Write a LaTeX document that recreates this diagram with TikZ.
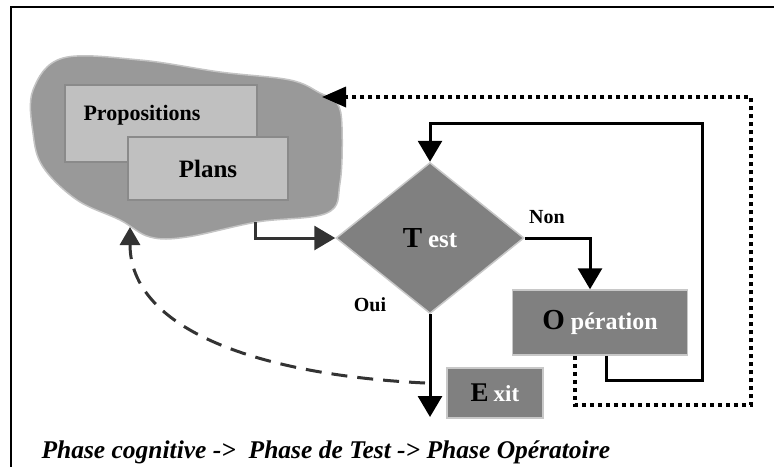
\documentclass[tikz,border=0pt]{standalone}
\usepackage{fontspec}
\setmainfont{Liberation Serif}
\usetikzlibrary{arrows.meta,shapes.geometric}
\definecolor{blobfill}{HTML}{999999}
\definecolor{blobedge}{HTML}{C4C4C4}
\definecolor{ideafill}{HTML}{C0C0C0}
\definecolor{ideaedge}{HTML}{8A8A8A}
\definecolor{actfill}{HTML}{808080}
\definecolor{actedge}{HTML}{C8C8C8}
\definecolor{darkline}{HTML}{333333}
\tikzset{
  idea/.style = {rectangle, fill=ideafill, draw=ideaedge, line width=1.2pt,
    inner sep=0pt, font=\bfseries},% boite de la phase cognitive
  act/.style = {rectangle, fill=actfill, draw=actedge, line width=1.5pt,
    inner sep=0pt, font=\bfseries},% boite grise
  decision/.style = {diamond, fill=actfill, draw=actedge, line width=1.5pt,
    inner sep=0pt, font=\bfseries},% losange du test
  lbl/.style = {font=\bfseries\fontsize{20}{22}\selectfont},
  flow/.style = {line width=3pt, -{Triangle[length=21pt,width=24pt]}},
  back/.style = {line width=3.5pt, dash pattern=on 4pt off 4pt,
    -{Triangle[length=24pt,width=20pt]}},
  retry/.style = {line width=3pt, darkline, dash pattern=on 16pt off 10pt,
    -{Triangle[length=18pt,width=20pt]}}
}
\newcommand{\blk}[2]{{\color{black}\fontsize{#1}{#1}\selectfont #2}}
\newcommand{\wht}[2]{{\color{white}\fontsize{#1}{#1}\selectfont #2}}

\begin{document}
\begin{tikzpicture}[x=1pt,y=-1pt]
\useasboundingbox (0,0) rectangle (774,467);
\draw[line width=2pt] (774,7) -- (11,7) -- (11,467);

% phase cognitive
\draw[fill=blobfill, draw=blobedge, line width=1.5pt] plot[smooth cycle, tension=0.6]
  coordinates {(33,90) (63,58) (140,60) (220,72) (290,80) (320,93) (337,103)
  (342,127) (340,183) (327,213) (257,222) (187,237) (150,237) (120,220)
  (77,200) (43,167) (33,133)};
\coordinate (blobS) at (255,222);
\coordinate (blobE) at (322,97);
\coordinate (blobB) at (130,227);
\node[idea, minimum width=192pt, minimum height=77pt] (prop) at (161,123.5) {};
\node[lbl, font=\bfseries\fontsize{22}{24}\selectfont] (propText) at (142,115) {Propositions};
\node[idea, minimum width=160pt, minimum height=63pt,
  font=\bfseries\fontsize{25}{27}\selectfont] (plans) at (208,168.5) {Plans};

% test et operation
\node[decision, minimum width=188pt, minimum height=151pt] (test) at (430,238)
  {\blk{29}{T}\hspace{6pt}\wht{25}{est}};
\node[act, minimum width=175pt, minimum height=65pt] (oper) at (600,322.5)
  {\blk{29}{O}\hspace{6pt}\wht{24}{pération}\hspace{20pt}};
\node[act, minimum width=96pt, minimum height=50pt] (exit) at (495,393)
  {\blk{27}{E}\hspace{5pt}\wht{23}{xit}\hspace{10pt}};
\node[lbl] (non) at (547,217) {Non};
\node[lbl] (oui) at (370,305) {Oui};

\coordinate (loopB) at (702,380);
\coordinate (loopT) at (702,123);
\coordinate (exitT) at (430,417);
\coordinate (dotB) at (751,405);
\coordinate (dotT) at (751,97);
\coordinate (dashS) at (425,383);

\draw[flow, darkline] (blobS) |- (test.west);
\draw[flow] (test.east) -| ([xshift=-10pt]oper.north);
\draw[flow] ([xshift=6pt]oper.south) |- (loopB) -- (loopT) -| (test.north);
\draw[flow] (test.south) -- (exitT);
\draw[back] ([xshift=-25pt]oper.south) |- (dotB) -- (dotT) -- (blobE);
\draw[retry] (dashS) .. controls (260,375) and (130,330) .. (blobB);

\node[anchor=base west, font=\bfseries\itshape\fontsize{25.5}{27}\selectfont] (caption)
  at (38,458) {Phase cognitive ->\ \ Phase de Test -> Phase Opératoire};
\end{tikzpicture}
\end{document}
